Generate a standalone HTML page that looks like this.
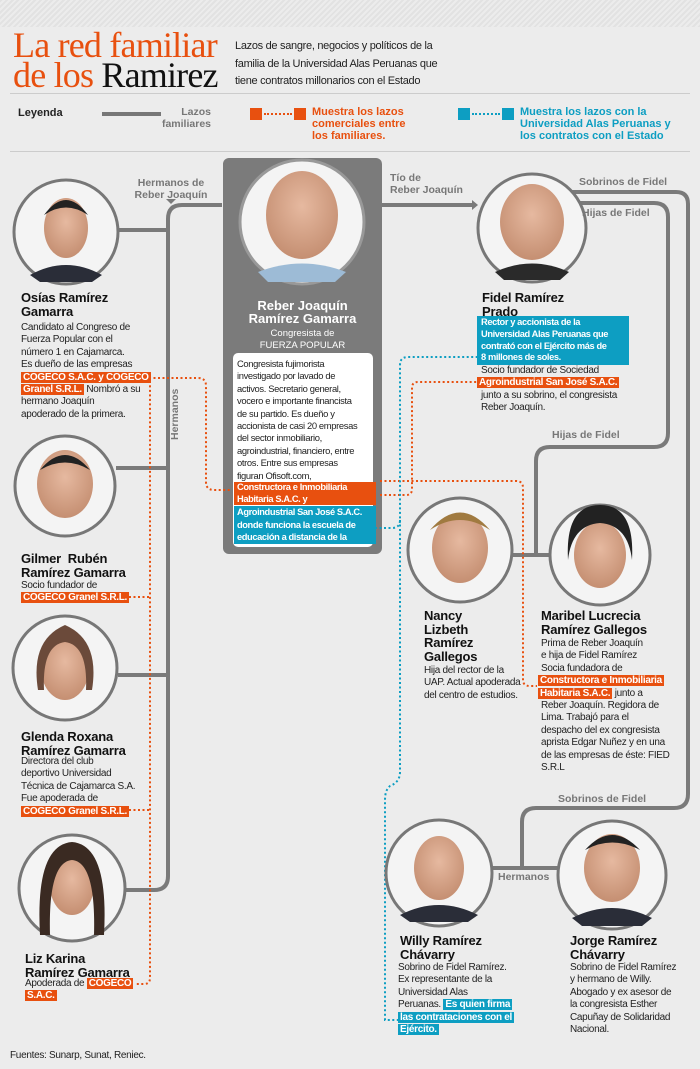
<!DOCTYPE html>
<html><head><meta charset="utf-8">
<style>
*{margin:0;padding:0;box-sizing:border-box}
body{width:700px;height:1069px;background:#ececec;font-family:"Liberation Sans",sans-serif;position:relative;overflow:hidden;color:#222}
.a{position:absolute}
.t{font-size:10px;line-height:12.4px;letter-spacing:-0.3px;color:#222}
.n{font-size:13px;line-height:13.5px;font-weight:bold;color:#111;letter-spacing:-0.2px}
.o{background:#e8500f;color:#fff;font-weight:bold;padding:0 2px}
.b{background:#0d9ec2;color:#fff;font-weight:bold;padding:0 2px}
.g{color:#777;font-weight:bold;font-size:10.5px;line-height:11.5px}
</style></head><body>
<div class="a" style="left:0;top:0;width:700px;height:27px;background:repeating-linear-gradient(135deg,#e2e2e2 0 2px,#ececec 2px 4px)"></div>
<div class="a" style="left:13px;top:30px;font-family:'Liberation Serif',serif;font-size:36px;line-height:30px;color:#e8500f;letter-spacing:-0.8px">La red familiar<br>de los <span style="color:#111">Ramirez</span></div>
<div class="a" style="left:235px;top:38px;font-size:11px;line-height:17.5px;color:#222;letter-spacing:-0.3px">Lazos de sangre, negocios y políticos de la<br>familia de la Universidad Alas Peruanas que<br>tiene contratos millonarios con el Estado</div>
<div class="a" style="left:10px;top:93px;width:680px;height:1px;background:#ccc"></div>
<div class="a" style="left:10px;top:151px;width:680px;height:1px;background:#ccc"></div>
<div class="a" style="left:18px;top:107px;font-size:11px;font-weight:bold">Leyenda</div>
<div class="a" style="left:102px;top:112px;width:59px;height:4px;background:#777"></div>
<div class="a g" style="left:155px;top:107px;width:56px;text-align:right">Lazos familiares</div>
<div class="a" style="left:250px;top:108px;width:12px;height:12px;background:#e8500f"></div>
<div class="a" style="left:294px;top:108px;width:12px;height:12px;background:#e8500f"></div>
<div class="a" style="left:264px;top:113px;width:28px;border-top:2px dotted #e8500f"></div>
<div class="a" style="left:312px;top:106px;font-size:11px;line-height:12px;font-weight:bold;color:#e8500f">Muestra los lazos<br>comerciales entre<br>los familiares.</div>
<div class="a" style="left:458px;top:108px;width:12px;height:12px;background:#0d9ec2"></div>
<div class="a" style="left:502px;top:108px;width:12px;height:12px;background:#0d9ec2"></div>
<div class="a" style="left:472px;top:113px;width:28px;border-top:2px dotted #0d9ec2"></div>
<div class="a" style="left:520px;top:106px;font-size:11px;line-height:12px;font-weight:bold;color:#0d9ec2">Muestra los lazos con la<br>Universidad Alas Peruanas y<br>los contratos con el Estado</div>

<!-- card -->
<div class="a" style="left:223px;top:158px;width:159px;height:396px;background:#7b7b7b;border-radius:6px"></div>
<div class="a" style="left:233px;top:353px;width:140px;height:194px;background:#fff;border-radius:5px"></div>

<svg class="a" style="left:0;top:0" width="700" height="1069">
<defs>
<radialGradient id="sk" cx="50%" cy="40%" r="60%"><stop offset="0" stop-color="#e6b9a0"/><stop offset="1" stop-color="#c58f72"/></radialGradient>
</defs>
<g fill="none" stroke="#7a7a7a" stroke-width="4">
<path d="M222 205 H182 Q168 205 168 219 V876 Q168 890 154 890 H125"/>
<path d="M118 230 H168 M116 468 H168 M118 675 H168"/>
<path d="M382 205 H472"/>
<path d="M565 192 H676 Q688 192 688 204 V794 Q688 808 674 808 H536 Q522 808 522 822 V868 M493 868 H558"/>
<path d="M570 203 H654 Q668 203 668 217 V433 Q668 447 654 447 H550 Q536 447 536 461 V555 M512 555 H551"/>
</g>
<path d="M472 200 L478 205 L472 210 Z" fill="#7a7a7a"/>
<path d="M166 199 L176 199 L171 204 Z" fill="#7a7a7a"/>
<g fill="none" stroke="#e8500f" stroke-width="2" stroke-dasharray="2 2.5">
<path d="M140 378 H198 Q206 378 206 386 V482 Q206 490 214 490 H232"/>
<path d="M140 380 H146 Q150 380 150 386 V978 Q150 984 144 984 H135"/>
<path d="M129 597 H150 M129 810 H150"/>
<path d="M380 495 H406 Q412 495 412 489 V388 Q412 382 418 382 H477"/>
<path d="M380 481 H516 Q523 481 523 488 V680 Q523 686 530 686 H537"/>
</g>
<g fill="none" stroke="#0d9ec2" stroke-width="2" stroke-dasharray="2 2.5">
<path d="M375 528 H392 Q400 528 400 520 V365 Q400 357 408 357 H477"/>
<path d="M400 520 V772 Q400 782 390 786 Q385 790 385 800 V1020 H398"/>
</g>
<g stroke="#777" stroke-width="3">
<circle cx="66" cy="232" r="52" fill="#f4f4f4"/>
<circle cx="65" cy="486" r="50" fill="#f4f4f4"/>
<circle cx="65" cy="668" r="52" fill="#f4f4f4"/>
<circle cx="72" cy="888" r="53" fill="#f4f4f4"/>
<circle cx="302" cy="222" r="62" fill="#f4f4f4" stroke="#999"/>
<circle cx="532" cy="228" r="54" fill="#f4f4f4"/>
<circle cx="460" cy="550" r="52" fill="#f4f4f4"/>
<circle cx="600" cy="555" r="50" fill="#f4f4f4"/>
<circle cx="439" cy="873" r="53" fill="#f4f4f4"/>
<circle cx="612" cy="875" r="54" fill="#f4f4f4"/>
</g>
<g>
<ellipse cx="66" cy="228" rx="22" ry="30" fill="url(#sk)"/><path d="M30 275 Q66 255 102 275 L92 282 H40Z" fill="#2a2d38"/><path d="M44 215 Q66 185 88 215 Q66 200 44 215" fill="#222"/>
<ellipse cx="65" cy="484" rx="28" ry="34" fill="url(#sk)"/><path d="M40 470 Q65 440 90 470 Q65 455 40 470" fill="#222"/>
<ellipse cx="65" cy="668" rx="24" ry="32" fill="url(#sk)"/><path d="M38 690 Q30 640 65 625 Q100 640 92 690 L86 690 Q88 645 65 642 Q42 645 44 690Z" fill="#6b4a3a"/>
<ellipse cx="72" cy="885" rx="22" ry="30" fill="url(#sk)"/><path d="M40 935 Q35 845 72 842 Q109 845 104 935 L94 935 Q96 862 72 860 Q48 862 50 935Z" fill="#3a2a22"/>
<ellipse cx="302" cy="215" rx="36" ry="44" fill="url(#sk)"/><path d="M258 272 Q302 255 346 272 L335 282 H268Z" fill="#9dbbd6"/>
<ellipse cx="532" cy="222" rx="32" ry="38" fill="url(#sk)"/><path d="M495 272 Q532 255 569 272 L560 280 H504Z" fill="#2a2a2a"/>
<ellipse cx="460" cy="548" rx="28" ry="35" fill="url(#sk)"/><path d="M430 530 Q460 495 490 530 Q460 510 430 530" fill="#a07a40"/>
<ellipse cx="600" cy="555" rx="26" ry="33" fill="url(#sk)"/><path d="M568 560 Q565 505 600 505 Q635 505 632 560 Q628 525 600 523 Q572 525 568 560" fill="#222"/>
<ellipse cx="439" cy="868" rx="25" ry="32" fill="url(#sk)"/><path d="M400 915 Q439 895 478 915 L468 922 H410Z" fill="#2a2d38"/>
<ellipse cx="612" cy="868" rx="28" ry="34" fill="url(#sk)"/><path d="M585 850 Q612 820 640 850 Q612 835 585 850" fill="#222"/><path d="M572 918 Q612 898 652 918 L642 926 H582Z" fill="#2a2d38"/>
</g>
</svg>

<div class="a g" style="left:130px;top:178px;width:82px;text-align:center">Hermanos de<br>Reber Joaquín</div>
<div class="a g" style="left:170px;top:440px;transform:rotate(-90deg);transform-origin:left top">Hermanos</div>
<div class="a g" style="left:390px;top:173px">Tío de<br>Reber Joaquín</div>
<div class="a g" style="left:579px;top:177px">Sobrinos de Fidel</div>
<div class="a g" style="left:582px;top:208px">Hijas de Fidel</div>
<div class="a g" style="left:552px;top:430px">Hijas de Fidel</div>
<div class="a g" style="left:558px;top:794px">Sobrinos de Fidel</div>
<div class="a g" style="left:498px;top:872px">Hermanos</div>

<!-- left column -->
<div class="a n" style="left:21px;top:291px">Osías Ramírez<br>Gamarra</div>
<div class="a t" style="left:21px;top:322px">Candidato al Congreso de<br>Fuerza Popular con el<br>número 1 en Cajamarca.<br>Es dueño de las empresas<br><span class="o">COGECO S.A.C. y COGECO</span><br><span class="o">Granel S.R.L.</span> Nombró a su<br>hermano Joaquín<br>apoderado de la primera.</div>
<div class="a n" style="left:21px;top:552px">Gilmer&nbsp; Rubén<br>Ramírez Gamarra</div>
<div class="a t" style="left:21px;top:580px">Socio fundador de<br><span class="o">COGECO Granel S.R.L.</span></div>
<div class="a n" style="left:21px;top:730px">Glenda Roxana<br>Ramírez Gamarra</div>
<div class="a t" style="left:21px;top:756px">Directora del club<br>deportivo Universidad<br>Técnica de Cajamarca S.A.<br>Fue apoderada de<br><span class="o">COGECO Granel S.R.L.</span></div>
<div class="a n" style="left:25px;top:952px">Liz Karina<br>Ramírez Gamarra</div>
<div class="a t" style="left:25px;top:978px">Apoderada de <span class="o">COGECO </span><br><span class="o">S.A.C.</span></div>

<!-- card text -->
<div class="a" style="left:223px;top:299px;width:159px;text-align:center;color:#fff;font-weight:bold;font-size:13px;line-height:13px">Reber Joaquín<br>Ramírez Gamarra</div>
<div class="a" style="left:223px;top:328px;width:159px;text-align:center;color:#fff;font-size:9.5px;line-height:12px">Congresista de<br>FUERZA POPULAR</div>
<div class="a t" style="left:237px;top:358px;width:136px;font-size:9.4px;letter-spacing:-0.35px">Congresista fujimorista<br>investigado por lavado de<br>activos. Secretario general,<br>vocero e importante financista<br>de su partido. Es dueño y<br>accionista de casi 20 empresas<br>del sector inmobiliario,<br>agroindustrial, financiero, entre<br>otros. Entre sus empresas<br>figuran Ofisoft.com,</div>
<div class="a t o" style="left:234px;top:482px;width:142px;padding:0 3px;font-size:9.3px;letter-spacing:-0.4px;line-height:11.5px">Constructora e Inmobiliaria<br>Habitaria S.A.C. y</div>
<div class="a t b" style="left:234px;top:506px;width:142px;padding:0 3px;font-size:9.3px;letter-spacing:-0.4px;line-height:12.5px">Agroindustrial San José S.A.C.<br>donde funciona la escuela de<br>educación a distancia de la</div>

<!-- Fidel -->
<div class="a n" style="left:482px;top:291px">Fidel Ramírez<br>Prado</div>
<div class="a t b" style="left:477px;top:316px;width:152px;padding:1px 4px;line-height:11.8px;font-size:9.3px;letter-spacing:-0.4px">Rector y accionista de la<br>Universidad Alas Peruanas que<br>contrató con el Ejército más de<br>8 millones de soles.</div>
<div class="a t" style="left:481px;top:365px">Socio fundador de Sociedad<br><span class="o" style="margin-left:-4px">Agroindustrial San José S.A.C.</span><br>junto a su sobrino, el congresista<br>Reber Joaquín.</div>

<div class="a n" style="left:424px;top:609px">Nancy<br>Lizbeth<br>Ramírez<br>Gallegos</div>
<div class="a t" style="left:424px;top:665px">Hija del rector de la<br>UAP. Actual apoderada<br>del centro de estudios.</div>
<div class="a n" style="left:541px;top:609px">Maribel Lucrecia<br>Ramírez Gallegos</div>
<div class="a t" style="left:541px;top:638px">Prima de Reber Joaquín<br>e hija de Fidel Ramírez<br>Socia fundadora de<br><span class="o" style="margin-left:-3px">Constructora e Inmobiliaria</span><br><span class="o" style="margin-left:-3px">Habitaria S.A.C.</span> junto a<br>Reber Joaquín. Regidora de<br>Lima. Trabajó para el<br>despacho del ex congresista<br>aprista Edgar Nuñez y en una<br>de las empresas de éste: FIED<br>S.R.L</div>

<div class="a n" style="left:400px;top:934px">Willy Ramírez<br>Chávarry</div>
<div class="a t" style="left:398px;top:962px">Sobrino de Fidel Ramírez.<br>Ex representante de la<br>Universidad Alas<br>Peruanas. <span class="b">Es quien firma</span><br><span class="b">las contrataciones con el</span><br><span class="b">Ejército.</span></div>
<div class="a n" style="left:570px;top:934px">Jorge Ramírez<br>Chávarry</div>
<div class="a t" style="left:570px;top:962px">Sobrino de Fidel Ramírez<br>y hermano de Willy.<br>Abogado y ex asesor de<br>la congresista Esther<br>Capuñay de Solidaridad<br>Nacional.</div>

<div class="a t" style="left:10px;top:1050px">Fuentes: Sunarp, Sunat, Reniec.</div>
</body></html>
